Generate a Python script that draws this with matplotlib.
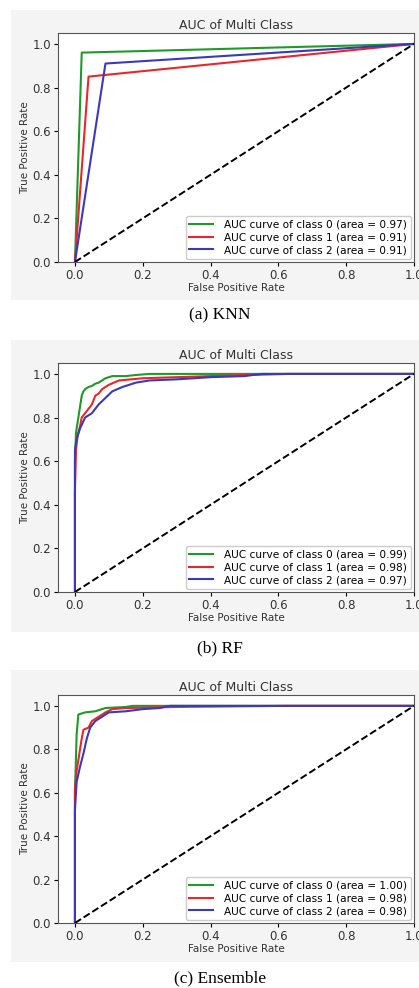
import matplotlib.pyplot as plt
import matplotlib.patches as patches

# KNN roc points
knn_fpr_0 = [0.0, 0.02, 1.0]
knn_tpr_0 = [0.0, 0.96, 1.0]
knn_fpr_1 = [0.0, 0.04, 1.0]
knn_tpr_1 = [0.0, 0.85, 1.0]
knn_fpr_2 = [0.0, 0.09, 1.0]
knn_tpr_2 = [0.0, 0.91, 1.0]

# RF roc points
rf_fpr_0 = [0.0, 0.0, 0.003, 0.006, 0.01, 0.015, 0.02, 0.025, 0.03, 0.04, 0.05, 0.06, 0.07, 0.08, 0.09, 0.1, 0.11, 0.15, 0.18, 0.22, 0.4, 1.0]
rf_tpr_0 = [0.0, 0.6, 0.73, 0.76, 0.8, 0.85, 0.9, 0.92, 0.93, 0.94, 0.945, 0.955, 0.96, 0.97, 0.98, 0.985, 0.99, 0.99, 0.995, 1.0, 1.0, 1.0]
rf_fpr_1 = [0.0, 0.0, 0.003, 0.008, 0.015, 0.02, 0.03, 0.04, 0.05, 0.06, 0.07, 0.08, 0.1, 0.13, 0.2, 0.3, 0.4, 0.63, 1.0]
rf_tpr_1 = [0.0, 0.46, 0.65, 0.72, 0.76, 0.8, 0.82, 0.84, 0.86, 0.9, 0.91, 0.93, 0.95, 0.97, 0.98, 0.985, 0.99, 1.0, 1.0]
rf_fpr_2 = [0.0, 0.0, 0.005, 0.015, 0.03, 0.05, 0.07, 0.09, 0.11, 0.14, 0.18, 0.22, 0.3, 0.4, 0.5, 0.55, 1.0]
rf_tpr_2 = [0.0, 0.65, 0.7, 0.75, 0.8, 0.82, 0.86, 0.89, 0.92, 0.94, 0.96, 0.97, 0.975, 0.985, 0.99, 1.0, 1.0]

# Ensemble roc points
en_fpr_0 = [0.0, 0.0, 0.005, 0.01, 0.02, 0.03, 0.06, 0.09, 0.15, 0.17, 1.0]
en_tpr_0 = [0.0, 0.6, 0.87, 0.96, 0.965, 0.97, 0.975, 0.99, 0.995, 1.0, 1.0]
en_fpr_1 = [0.0, 0.0, 0.005, 0.015, 0.02, 0.025, 0.04, 0.05, 0.07, 0.09, 0.11, 0.15, 0.3, 0.62, 1.0]
en_tpr_1 = [0.0, 0.62, 0.7, 0.8, 0.85, 0.89, 0.9, 0.93, 0.95, 0.97, 0.985, 0.99, 0.995, 1.0, 1.0]
en_fpr_2 = [0.0, 0.0, 0.005, 0.015, 0.025, 0.035, 0.045, 0.06, 0.08, 0.1, 0.15, 0.2, 0.25, 0.28, 1.0]
en_tpr_2 = [0.0, 0.52, 0.65, 0.72, 0.78, 0.85, 0.9, 0.93, 0.95, 0.97, 0.975, 0.985, 0.99, 1.0, 1.0]

knn_auc = [0.97, 0.91, 0.91]
rf_auc = [0.99, 0.98, 0.97]
en_auc = [1.00, 0.98, 0.98]

captions = ["(a) KNN", "(b) RF", "(c) Ensemble"]
colors = ["#1f9a2a", "#e8272a", "#3a3ab8"]

W, H = 419, 988
fig = plt.figure(figsize=(W / 100, H / 100), dpi=100)

# pixel boxes: (grey top, grey bottom, axes top, axes bottom, caption y)
boxes = [(10, 300, 33, 262, 315), (340, 632, 363, 592, 648), (670, 962, 695, 923, 978)]
panels = [
    ([knn_fpr_0, knn_fpr_1, knn_fpr_2], [knn_tpr_0, knn_tpr_1, knn_tpr_2], knn_auc),
    ([rf_fpr_0, rf_fpr_1, rf_fpr_2], [rf_tpr_0, rf_tpr_1, rf_tpr_2], rf_auc),
    ([en_fpr_0, en_fpr_1, en_fpr_2], [en_tpr_0, en_tpr_1, en_tpr_2], en_auc),
]

for (gt, gb, at, ab, cy), (fprs, tprs, aucs), cap in zip(boxes, panels, captions):
    fig.patches.append(patches.Rectangle((11 / W, 1 - gb / H), 1, (gb - gt) / H,
                                         transform=fig.transFigure, fc="#f4f4f4", ec="none", zorder=-10))
    ax = fig.add_axes([58 / W, 1 - ab / H, (414 - 58) / W, (ab - at) / H])
    for i in range(3):
        ax.plot(fprs[i], tprs[i], color=colors[i], lw=1.5,
                label="AUC curve of class %d (area = %0.2f)" % (i, aucs[i]))
    ax.plot([0, 1], [0, 1], "k--", lw=1.4)
    ax.set_xlim([-0.05, 1.0])
    ax.set_ylim([0.0, 1.05])
    ax.set_title("AUC of Multi Class", fontsize=9, pad=3, color="#333333")
    ax.set_xlabel("False Positive Rate", fontsize=7.5, labelpad=1, color="#333333")
    ax.set_ylabel("True Positive Rate", fontsize=7.5, labelpad=2, color="#333333")
    ax.tick_params(labelsize=8.5, length=3, pad=2, labelcolor="#333333")
    for s in ax.spines.values():
        s.set_color("#555555")
    ax.legend(loc="lower right", fontsize=7.6, handlelength=2.2, borderpad=0.35,
              labelspacing=0.25, handletextpad=1.1, framealpha=1, borderaxespad=0.3)
    fig.text(220 / W, 1 - cy / H, cap, ha="center", va="center",
             family="Liberation Serif", fontsize=12.5)

fig.savefig("out.png", dpi=100)
